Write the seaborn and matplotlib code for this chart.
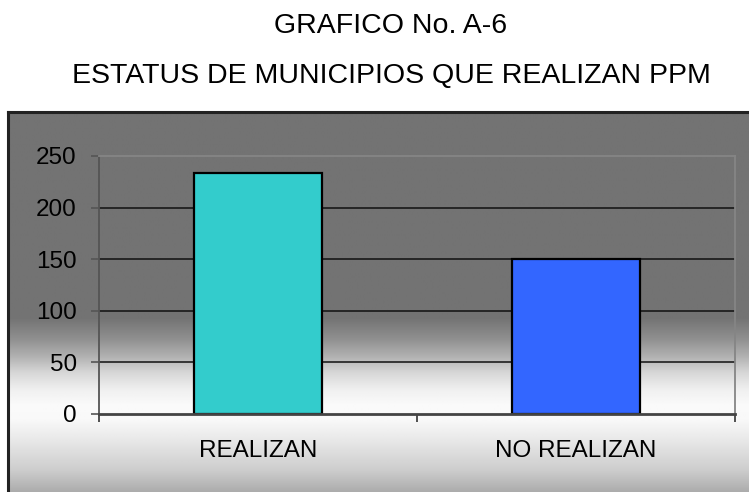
import numpy as np
import matplotlib
matplotlib.use("Agg")
import matplotlib.pyplot as plt
import seaborn as sns

# Data
categories = ["REALIZAN", "NO REALIZAN"]
values = [234, 150]
bar_colors = ["#33CCCC", "#3366FF"]
y_ticks = [0, 50, 100, 150, 200, 250]

title_1 = "GRAFICO No. A-6"
title_2 = "ESTATUS DE MUNICIPIOS QUE REALIZAN PPM"

sns.set_style("white")
plt.rcParams["font.family"] = ["Liberation Sans", "DejaVu Sans"]
plt.rcParams["text.color"] = "black"

W, H = 749, 492
fig = plt.figure(figsize=(W / 100, H / 100), dpi=100)
fig.patch.set_facecolor("white")

# Framed chart area with a vertical grey-to-white-to-grey fill
box_left, box_top = 8, 112
bg = fig.add_axes([box_left / W, 0, 1 - box_left / W + 0.01, 1 - box_top / H])
rows = np.arange(box_top, H + 1)
stops_y = [112, 318, 340, 357, 373, 390, 405, 420, 440, 470, 492]
stops_v = [115, 115, 145, 178, 215, 240, 250, 248, 232, 205, 172]
shade = np.interp(rows, stops_y, stops_v) / 255.0
img = np.repeat(shade[:, None], 10, axis=1)
bg.imshow(img, cmap="gray", vmin=0, vmax=1, aspect="auto",
          extent=[0, 1, 0, 1], interpolation="bilinear")
bg.set_xticks([])
bg.set_yticks([])
for side, sp in bg.spines.items():
    sp.set_color("#222222")
    sp.set_linewidth(2.2)
bg.spines["right"].set_visible(False)
bg.spines["bottom"].set_visible(False)

# Plot area
px_left, px_right, px_top, px_bottom = 99, 735, 156, 414
ax = fig.add_axes([px_left / W, 1 - px_bottom / H,
                   (px_right - px_left) / W, (px_bottom - px_top) / H])
ax.patch.set_alpha(0)

sns.barplot(x=categories, y=values, hue=categories, palette=bar_colors,
            legend=False, width=0.4, edgecolor="black", linewidth=1.6,
            saturation=1, ax=ax, zorder=3)

ax.set_xlim(-0.5, len(categories) - 0.5)
ax.set_ylim(0, 250)
ax.set_yticks(y_ticks)
ax.set_yticklabels([str(t) for t in y_ticks])
ax.set_xlabel("")
ax.set_ylabel("")

# Horizontal gridlines behind the bars
for t in y_ticks[1:-1]:
    ax.axhline(t, color="#111111", linewidth=1.1, zorder=1)

ax.tick_params(axis="y", which="major", left=True, direction="out", length=6,
               width=1.2, color="#555555", pad=10, labelsize=17.5,
               labelcolor="black")
ax.tick_params(axis="x", which="major", bottom=True, length=0, pad=19,
               labelsize=17.5, labelcolor="black")
ax.set_xticks([x + 0.5 for x in range(-1, len(categories))], minor=True)
ax.tick_params(axis="x", which="minor", bottom=True, direction="out",
               length=6, width=1.2, color="#333333")

ax.spines["left"].set_color("#555555")
ax.spines["left"].set_linewidth(1.3)
ax.spines["bottom"].set_color("#444444")
ax.spines["bottom"].set_linewidth(2.0)
ax.spines["bottom"].set_zorder(4)
ax.spines["top"].set_color("#858585")
ax.spines["top"].set_linewidth(1.3)
ax.spines["right"].set_color("#858585")
ax.spines["right"].set_linewidth(1.3)

# Titles above the framed area
fig.text(391 / W, 1 - 26 / H, title_1, ha="center", va="center",
         fontsize=20.5, color="black")
fig.text(391 / W, 1 - 76 / H, title_2, ha="center", va="center",
         fontsize=20.5, color="black")

fig.savefig("out.png", dpi=100, facecolor="white")
